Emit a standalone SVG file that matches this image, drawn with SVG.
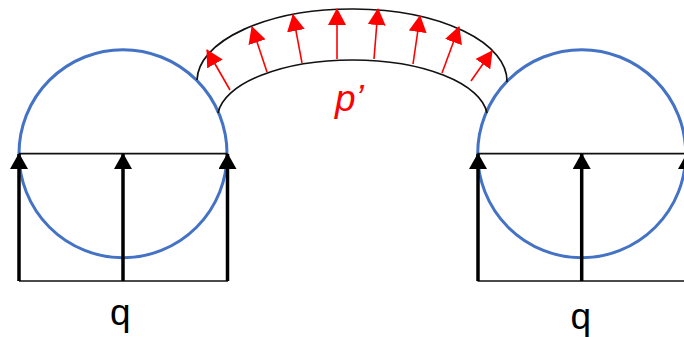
<svg xmlns="http://www.w3.org/2000/svg" width="684" height="337" viewBox="0 0 684 337">
<style>
.c{fill:none;stroke:#4472c4;stroke-width:3}
.l{fill:none;stroke:#111;stroke-width:1.700}
.q{stroke:#000;stroke-width:3.500;fill:none;marker-end:url(#bk)}
.p{stroke:#f00;stroke-width:1.600;fill:none;marker-end:url(#rd)}
text{font-family:"Liberation Sans",Arial,sans-serif;font-size:37px}
</style>
<defs>
<marker id="bk" markerUnits="userSpaceOnUse" markerWidth="18" markerHeight="18" refX="15" refY="9" orient="auto" viewBox="0 0 18 18"><path d="M0 0L16 9L0 18z" fill="#000"/></marker>
<marker id="rd" markerUnits="userSpaceOnUse" markerWidth="18" markerHeight="18" refX="16" refY="9" orient="auto" viewBox="0 0 18 18"><path d="M0 0L17 9L0 18z" fill="#f00"/></marker>
</defs>
<g id="left-circle"><circle class="c" cx="123" cy="153.700" r="104"/></g>
<g id="right-circle"><circle class="c" cx="581.700" cy="153.700" r="104"/></g>
<g id="band">
<path class="l" d="M197 80A155 72 0 0 1 507 82"/>
<path class="l" d="M218 113A135 58 0 0 1 487 113"/>
</g>
<g id="connectors">
<path class="l" d="M19 153.700H227M19 281H228M477.500 153.700H684M477.500 281H684"/>
<path class="q" d="M19 281V154"/>
<path class="q" d="M123 281V154"/>
<path class="q" d="M227.500 281V154"/>
<path class="q" d="M478 281V154"/>
<path class="q" d="M581.700 281V154"/>
<path class="q" d="M687 281V154"/>
<path class="p" d="M230 90L207 50"/>
<path class="p" d="M267 72L252 27"/>
<path class="p" d="M302 63L293 15"/>
<path class="p" d="M337 59V9"/>
<path class="p" d="M374 59L378 9"/>
<path class="p" d="M413 64L420 16"/>
<path class="p" d="M442 73L459 27"/>
<path class="p" d="M471 81L492 51"/>
</g>
<g id="labels">
<text x="110" y="325">q</text>
<text x="570.500" y="329">q</text>
<text x="335" y="111" font-style="italic" fill="#f00">p’</text>
</g>
</svg>
